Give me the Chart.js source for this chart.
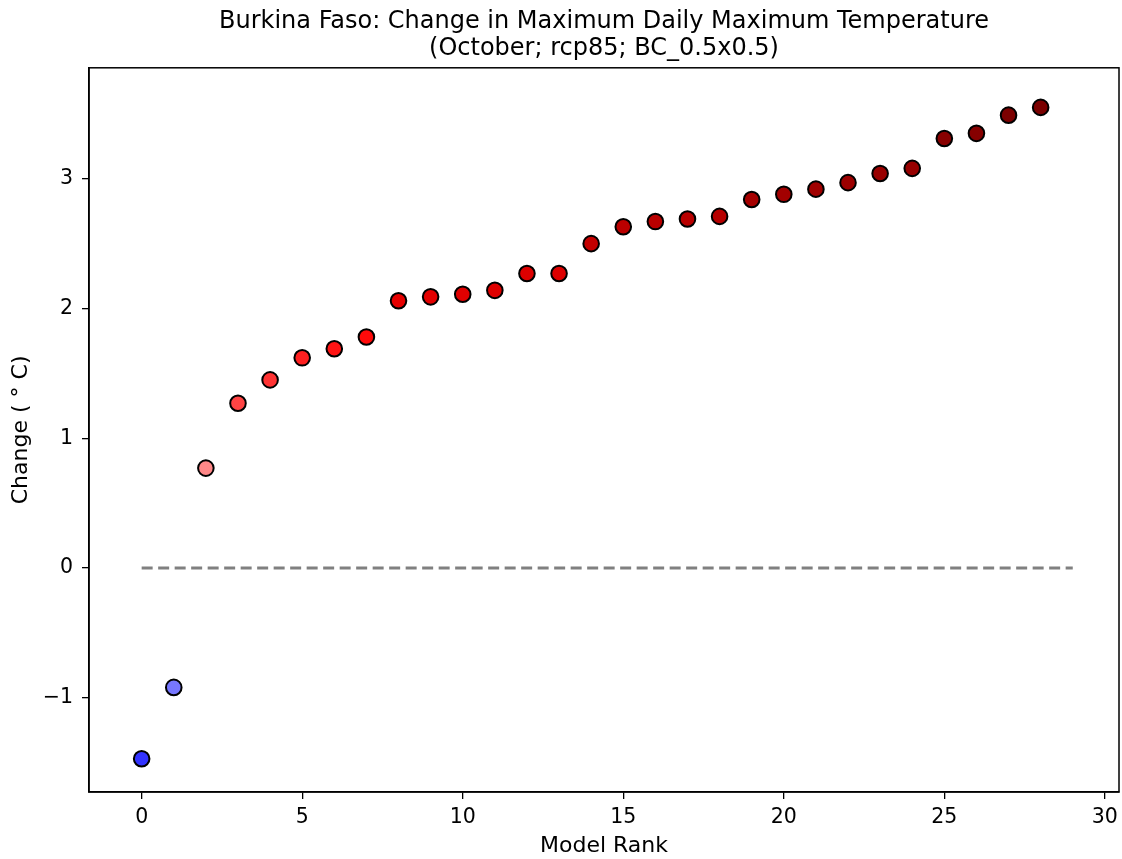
<!DOCTYPE html>
<html>
<head>
<meta charset="utf-8">
<script src="https://cdn.jsdelivr.net/npm/chart.js@4.4.0/dist/chart.umd.min.js"></script>
<style>
  body { margin: 0; background: #fff; }
  canvas { display: block; }
</style>
</head>
<body>
<canvas id="chart" width="1122" height="859"></canvas>
<script>
const titleLines = [
  "Burkina Faso: Change in Maximum Daily Maximum Temperature",
  "(October; rcp85; BC_0.5x0.5)"
];

const ranks = [0, 1, 2, 3, 4, 5, 6, 7, 8, 9, 10, 11, 12, 13, 14, 15, 16, 17, 18, 19, 20, 21, 22, 23, 24, 25, 26, 27, 28];
const changes = [-1.47, -0.92, 0.77, 1.27, 1.45, 1.62, 1.69, 1.78, 2.06, 2.09, 2.11, 2.14, 2.27, 2.27,
  2.50, 2.63, 2.67, 2.69, 2.71, 2.84, 2.88, 2.92, 2.97, 3.04, 3.08, 3.31, 3.35, 3.49, 3.55];
const pointColors = ["#3333ff", "#7777ff", "#ff8888", "#ff4444", "#ff3333", "#ff2020", "#ff1414", "#ff0a0a",
  "#e60000", "#e30000", "#e00000", "#df0000", "#dd0000", "#dd0000",
  "#c40000", "#bb0000", "#b90000", "#b80000", "#b60000", "#a60000", "#a20000", "#a00000", "#9c0000",
  "#990000", "#970000", "#880000", "#860000", "#7c0000", "#7a0000"];

const zeroLineX = [0, 29];
const xTicks = [0, 5, 10, 15, 20, 25, 30];
const yTicks = [-1, 0, 1, 2, 3];

const font = "'DejaVu Sans', sans-serif";

// black box round the plot area, like the reference
const framePlugin = {
  id: "frame",
  afterDraw(chart) {
    const a = chart.chartArea;
    const ctx = chart.ctx;
    ctx.save();
    ctx.strokeStyle = "#000";
    ctx.lineWidth = 1.5;
    ctx.strokeRect(a.left, a.top, a.right - a.left, a.bottom - a.top);
    ctx.restore();
  }
};

new Chart(document.getElementById("chart"), {
  type: "scatter",
  data: {
    datasets: [
      {
        type: "line",
        data: zeroLineX.map(x => ({ x: x, y: 0 })),
        borderColor: "#808080",
        borderWidth: 3,
        borderDash: [11, 5.5],
        pointRadius: 0,
        fill: false
      },
      {
        data: ranks.map((r, i) => ({ x: r, y: changes[i] })),
        backgroundColor: pointColors,
        borderColor: "#000",
        borderWidth: 2,
        pointRadius: 7.8,
        pointHoverRadius: 7.8
      }
    ]
  },
  options: {
    responsive: false,
    animation: false,
    devicePixelRatio: 1,
    layout: { autoPadding: false, padding: { left: 0, right: 3, top: 0, bottom: 0 } },
    plugins: {
      legend: { display: false },
      tooltip: { enabled: false },
      title: {
        display: true,
        fullSize: false,
        text: titleLines,
        color: "#000",
        font: { family: font, size: 24, weight: "normal", lineHeight: 1.1 },
        padding: { top: 9, bottom: 6 }
      }
    },
    scales: {
      x: {
        type: "linear",
        min: -1.64,
        max: 30.44,
        afterBuildTicks: s => { s.ticks = xTicks.map(v => ({ value: v })); },
        afterFit: s => { s.height = 67; s.paddingLeft = 0; s.paddingRight = 0; },
        grid: { drawOnChartArea: false, drawTicks: true, tickLength: 7, color: "#000", lineWidth: 1.3 },
        border: { display: true, color: "#000", width: 1.5 },
        ticks: { color: "#000", font: { family: font, size: 20.5 }, padding: 6, maxRotation: 0 },
        title: { display: true, text: "Model Rank", color: "#000", font: { family: font, size: 22 }, padding: { top: 0, bottom: 0 } }
      },
      y: {
        type: "linear",
        min: -1.726,
        max: 3.855,
        afterBuildTicks: s => { s.ticks = yTicks.map(v => ({ value: v })); },
        afterFit: s => { s.width = 89; s.paddingTop = 0; s.paddingBottom = 0; },
        grid: { drawOnChartArea: false, drawTicks: true, tickLength: 7, color: "#000", lineWidth: 1.3 },
        border: { display: true, color: "#000", width: 1.5 },
        ticks: {
          color: "#000",
          font: { family: font, size: 20.5 },
          padding: 9,
          callback: v => String(v).replace("-", "\u2212")
        },
        title: { display: true, text: "Change ( \u00b0 C)", color: "#000", font: { family: font, size: 22 }, padding: { top: 8, bottom: 6 } }
      }
    }
  },
  plugins: [framePlugin]
});
</script>
</body>
</html>
